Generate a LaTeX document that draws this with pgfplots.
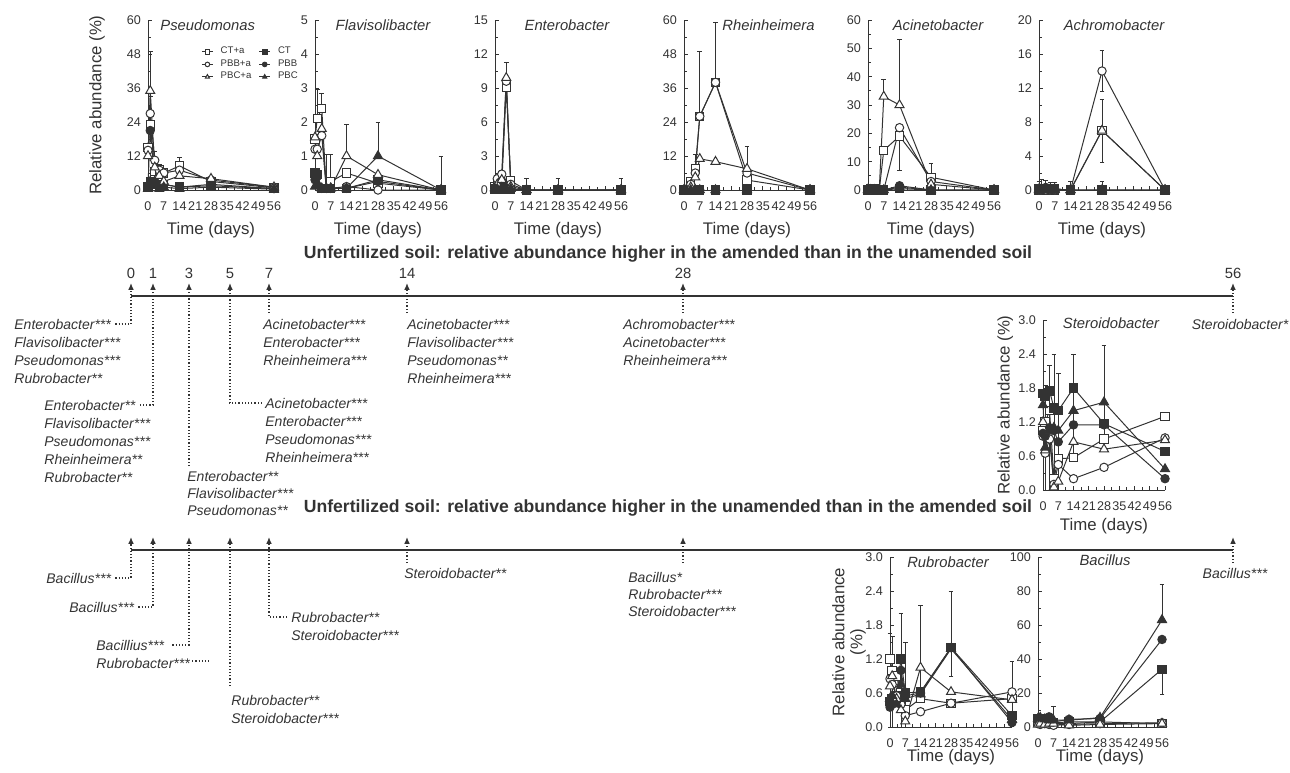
\documentclass[border=0pt]{standalone}
\usepackage{pgfplots}
\pgfplotsset{compat=1.18}
\usepackage{fontspec}
\setmainfont{Liberation Sans}
\usetikzlibrary{arrows.meta}
\definecolor{ink}{gray}{0.2}

\pgfplotsset{
  ser/.style={color=ink, line width=0.5pt, mark size=2.1pt},
  cta/.style={ser, mark=square*, mark options={solid, fill=white}},
  pbba/.style={ser, mark=*, mark options={solid, fill=white}},
  pbca/.style={ser, mark=triangle*, mark size=2.6pt, mark options={solid, fill=white}},
  ct/.style={ser, mark=square*, mark options={solid, fill=ink}},
  pbb/.style={ser, mark=*, mark options={solid, fill=ink}},
  pbc/.style={ser, mark=triangle*, mark size=2.6pt, mark options={solid, fill=ink}},
  errb/.style={forget plot, draw=none, mark=none,
    error bars/y dir=both, error bars/y explicit,
    error bars/error bar style={draw=ink, line width=0.35pt},
    error bars/error mark options={draw=ink, rotate=90, mark size=1.2pt, line width=0.35pt}},
  panel/.style={
    scale only axis, width=63pt, height=85pt, anchor=south west,
    xmin=0, xmax=56, ymin=0, xtick={0,7,...,56},
    minor x tick num=1, minor y tick num=1,
    axis x line*=bottom, axis y line*=left,
    axis line style={ink, line width=0.5pt},
    tick align=inside, major tick length=2.2pt, minor tick length=1.3pt,
    tick style={ink, line width=0.4pt},
    tick label style={font=\fontsize{6.3}{7}\selectfont, text=ink},
    xticklabel style={yshift=-2.5pt},
    /pgf/number format/assume math mode=true,
    xlabel={Time (days)},
    label style={font=\fontsize{8.4}{9}\selectfont, text=ink},
    xlabel style={at={(axis description cs:0.5,-0.235)}, anchor=center},
    ylabel style={anchor=center},
    clip=false,
  },
  dec/.style={ymax=3, ytick={0,0.6,1.2,1.8,2.4,3},
    yticklabel style={/pgf/number format/.cd, fixed, fixed zerofill, precision=1}},
}

\begin{document}
\begin{tikzpicture}
\begin{scope}[x=0.5pt, y=-0.5pt,
  tx/.style={font=\fontsize{7}{8}\selectfont\itshape, text=ink, inner sep=0pt, anchor=west},
  ttl/.style={font=\fontsize{7.4}{8}\selectfont\itshape, text=ink, inner sep=0pt},
  num/.style={font=\fontsize{7.4}{8}\selectfont, text=ink, inner sep=0pt},
  hd/.style={font=\fontsize{8.8}{10}\selectfont\bfseries, text=ink},
  arr/.style={ink, densely dotted, line width=0.6pt, -{Latex[length=3.4pt,width=2.8pt]}},
  dt/.style={ink, densely dotted, line width=0.6pt}]
\path[use as bounding box] (0,0) rectangle (1290,766);

% ---------- timeline 1 ----------
\node[hd] at (668,254)
  {Unfertilized soil: relative abundance higher in the amended than in the unamended soil};
\draw[ink, line width=1.3pt] (131,296) -- (1233,296);
\foreach \d/\x in {0/131,1/153,3/189,5/230,7/269,14/407,28/683,56/1233}
  \node[num] at (\x,273) {\d};

\node[tx] (a0) at (14,324) {Enterobacter***};
\node[tx] at (14,342) {Flavisolibacter***};
\node[tx] at (14,360) {Pseudomonas***};
\node[tx] at (14,378) {Rubrobacter**};
\draw[arr] ([xshift=2pt]a0.east) -| (131,283);

\node[tx] (a1) at (44,405) {Enterobacter**};
\node[tx] at (44,423) {Flavisolibacter***};
\node[tx] at (44,441) {Pseudomonas***};
\node[tx] at (44,459) {Rheinheimera**};
\node[tx] at (44,477) {Rubrobacter**};
\draw[arr] ([xshift=2pt]a1.east) -| (153,283);

\node[tx] at (187,476) {Enterobacter**};
\node[tx] at (187,493) {Flavisolibacter***};
\node[tx] at (187,510) {Pseudomonas**};
\draw[arr] (189,466) -- (189,283);

\node[tx] (a5) at (265,403) {Acinetobacter***};
\node[tx] at (265,421) {Enterobacter***};
\node[tx] at (265,439) {Pseudomonas***};
\node[tx] at (265,457) {Rheinheimera***};
\draw[arr] ([xshift=-1.5pt]a5.west) -| (230,283);

\node[tx] at (263,324) {Acinetobacter***};
\node[tx] at (263,342) {Enterobacter***};
\node[tx] at (263,360) {Rheinheimera***};
\draw[arr] (269,313) -- (269,283);

\node[tx] at (407,324) {Acinetobacter***};
\node[tx] at (407,342) {Flavisolibacter***};
\node[tx] at (407,360) {Pseudomonas**};
\node[tx] at (407,378) {Rheinheimera***};
\draw[arr] (407,313) -- (407,283);

\node[tx] at (623,324) {Achromobacter***};
\node[tx] at (623,342) {Acinetobacter***};
\node[tx] at (623,360) {Rheinheimera***};
\draw[arr] (683,313) -- (683,283);

\node[tx, anchor=center] at (1240,324) {Steroidobacter*};
\draw[arr] (1233,313) -- (1233,283);

% ---------- timeline 2 ----------
\node[hd] at (668,508)
  {Unfertilized soil: relative abundance higher in the unamended than in the amended soil};
\draw[ink, line width=1.3pt] (131,550) -- (1233,550);

\node[tx] (b0) at (46,578) {Bacillus***};
\draw[arr] ([xshift=2pt]b0.east) -| (131,537);
\node[tx] (b1) at (69,607) {Bacillus***};
\draw[arr] ([xshift=2pt]b1.east) -| (153,537);
\node[tx] (b3) at (96,645) {Bacillius***};
\node[tx] (b3b) at (96,663) {Rubrobacter***};
\draw[arr] ([xshift=4pt]b3.east) -| (189,537);
\draw[dt] ([xshift=1pt,yshift=1pt]b3b.east) -- ++(17,0);
\node[tx] at (231,700) {Rubrobacter**};
\node[tx] at (231,718) {Steroidobacter***};
\draw[arr] (230,686) -- (230,537);
\node[tx] (b7) at (291,617) {Rubrobacter**};
\node[tx] at (291,635) {Steroidobacter***};
\draw[arr] ([xshift=-2pt]b7.west) -| (269,537);
\node[tx] at (404,573) {Steroidobacter**};
\draw[arr] (407,563) -- (407,537);
\node[tx] at (628,577) {Bacillus*};
\node[tx] at (628,594) {Rubrobacter***};
\node[tx] at (628,611) {Steroidobacter***};
\draw[arr] (683,563) -- (683,537);
\node[tx, anchor=center] at (1235,573) {Bacillus***};
\draw[arr] (1233,563) -- (1233,537);

% ---------- panel titles ----------
\node[ttl, anchor=west] at (160,25) {Pseudomonas};
\node[ttl] at (383,25) {Flavisolibacter};
\node[ttl] at (567,25) {Enterobacter};
\node[ttl, anchor=east] at (815,25) {Rheinheimera};
\node[ttl] at (938,25) {Acinetobacter};
\node[ttl] at (1114,25) {Achromobacter};
\node[ttl] at (1111,323) {Steroidobacter};
\node[ttl] at (948,562) {Rubrobacter};
\node[ttl] at (1105,560) {Bacillus};
\end{scope}

% ---------- Pseudomonas ----------
\begin{axis}[panel, at={(74pt,-95pt)}, ymax=60, ytick={0,12,...,60},
  ylabel={Relative abundance (\%)}, ylabel style={at={(axis description cs:-0.405,0.5)}},
  legend columns=2, legend cell align=left,
  legend style={at={(axis description cs:0.42,0.85)}, anchor=north west, draw=none, fill=none,
    font=\fontsize{4.8}{5}\selectfont, text=ink, inner sep=0pt, row sep=0.2pt, column sep=3pt,
    nodes={inner sep=0.6pt}},
  legend image code/.code={\draw[#1, mark size=1.15pt, mark repeat=2, mark phase=2]
    plot coordinates {(0pt,0pt) (2.8pt,0pt) (5.6pt,0pt)};}]
\addplot[errb] coordinates {(1,35) += (0,14) -= (0,0) (1,27) += (0,6) -= (0,0)
  (3,10.5) += (0,3) -= (0,0) (5,7) += (0,2) -= (0,0) (14,8.5) += (0,3) -= (0,0)};
\addplot[cta] coordinates {(0,15)(1,23)(3,6.5)(5,7)(7,6)(14,8.5)(28,3)(56,0.8)};
\addplot[ct] coordinates {(0,1)(1,3)(3,2)(5,1)(7,2)(14,1)(28,1.5)(56,0.5)};
\addplot[pbba] coordinates {(0,14)(1,27)(3,10.5)(5,7)(7,6)(14,7)(28,3.5)(56,1)};
\addplot[pbb] coordinates {(0,1.5)(1,21)(3,3)(5,1)(7,2)(14,1)(28,2)(56,0.5)};
\addplot[pbca] coordinates {(0,12)(1,35)(3,8)(5,5)(7,3)(14,5)(28,4)(56,1)};
\addplot[pbc] coordinates {(0,0.5)(1,3)(3,2.5)(5,0.5)(7,1)(14,0.5)(28,1)(56,0.3)};
\legend{CT+a,CT,PBB+a,PBB,PBC+a,PBC}
\end{axis}

% ---------- Flavisolibacter ----------
\begin{axis}[panel, at={(157.5pt,-95pt)}, ymax=5, ytick={0,...,5}]
\addplot[errb] coordinates {(1,2.1) += (0,0.85) -= (0,0) (3,2.4) += (0,0.45) -= (0,0)
  (5,0.05) += (0,1) -= (0,0) (7,0.25) += (0,0.8) -= (0,0) (14,1) += (0,0.93) -= (0,0)
  (28,1) += (0,1) -= (0,0) (56,0) += (0,1) -= (0,0)};
\addplot[cta] coordinates {(0,1.5)(1,2.1)(3,2.4)(5,0.05)(7,0.25)(14,0.5)(28,0.2)(56,0)};
\addplot[ct] coordinates {(0,0.5)(1,0.45)(3,0.05)(5,0.05)(7,0.05)(14,0.05)(28,0.3)(56,0)};
\addplot[pbba] coordinates {(0,1.2)(1,1.2)(3,1.6)(5,0.05)(7,0.05)(14,0.1)(28,0)(56,0)};
\addplot[pbb] coordinates {(0,0.3)(1,0.4)(3,0.05)(5,0.05)(7,0.05)(14,0.05)(28,0.25)(56,0)};
\addplot[pbca] coordinates {(0,1.55)(1,1.0)(3,1.8)(5,0.05)(7,0.05)(14,1.0)(28,0.45)(56,0)};
\addplot[pbc] coordinates {(0,0.1)(1,0.2)(3,0.05)(5,0.05)(7,0.05)(14,0.05)(28,1.0)(56,0)};
\end{axis}

% ---------- Enterobacter ----------
\begin{axis}[panel, at={(247.5pt,-95pt)}, ymax=15, ytick={0,3,...,15}]
\addplot[errb] coordinates {(5,9.9) += (0,1.4) -= (0,0) (3,1.4) += (0,0.3) -= (0,0)
  (14,0) += (0,1) -= (0,0) (28,0) += (0,1) -= (0,0) (56,0) += (0,1) -= (0,0)};
\addplot[cta] coordinates {(0,0.3)(1,0.6)(3,0.5)(5,9.1)(7,0.8)(14,0)(28,0)(56,0)};
\addplot[ct] coordinates {(0,0.1)(1,0.1)(3,0.1)(5,0.1)(7,0.1)(14,0)(28,0)(56,0)};
\addplot[pbba] coordinates {(0,0.2)(1,1.0)(3,1.4)(5,9.6)(7,0.5)(14,0)(28,0)(56,0)};
\addplot[pbb] coordinates {(0,0.1)(1,0.3)(3,0.8)(5,0.2)(7,0.1)(14,0)(28,0)(56,0)};
\addplot[pbca] coordinates {(0,0.2)(1,0.5)(3,0.9)(5,9.9)(7,0.3)(14,0)(28,0)(56,0)};
\addplot[pbc] coordinates {(0,0.1)(1,0.1)(3,0.2)(5,0.1)(7,0.1)(14,0)(28,0)(56,0)};
\end{axis}

% ---------- Rheinheimera ----------
\begin{axis}[panel, at={(342pt,-95pt)}, ymax=60, ytick={0,12,...,60}]
\addplot[errb] coordinates {(7,26) += (0,23) -= (0,0) (14,38) += (0,21) -= (0,0)
  (28,7.5) += (0,8) -= (0,0) (5,7.5) += (0,5) -= (0,0)};
\addplot[cta] coordinates {(0,0)(1,0)(3,3)(5,7.5)(7,26)(14,38)(28,3.5)(56,0)};
\addplot[ct] coordinates {(0,0)(1,0)(3,0)(5,0)(7,0)(14,0)(28,0)(56,0)};
\addplot[pbba] coordinates {(0,0)(1,0)(3,2)(5,6)(7,26)(14,38)(28,6)(56,0)};
\addplot[pbb] coordinates {(0,0)(1,0)(3,0)(5,0)(7,0)(14,0)(28,0)(56,0)};
\addplot[pbca] coordinates {(0,0)(1,0)(3,1)(5,4.5)(7,11)(14,10)(28,7.5)(56,0)};
\addplot[pbc] coordinates {(0,0)(1,0)(3,0)(5,0)(7,0)(14,0)(28,0)(56,0)};
\end{axis}

% ---------- Acinetobacter ----------
\begin{axis}[panel, at={(434pt,-95pt)}, ymax=60, ytick={0,10,...,60}]
\addplot[errb] coordinates {(7,33) += (0,6) -= (0,0) (14,30) += (0,23) -= (0,0)
  (14,19) += (0,0) -= (0,12) (28,4.5) += (0,5) -= (0,0)};
\addplot[cta] coordinates {(0,0)(1,0)(3,0.3)(5,0)(7,14)(14,19)(28,4.5)(56,0)};
\addplot[ct] coordinates {(0,0)(1,0.3)(3,0)(5,0)(7,0)(14,0.5)(28,0)(56,0)};
\addplot[pbba] coordinates {(0,0)(1,0)(3,0)(5,0)(7,0)(14,22)(28,3)(56,0)};
\addplot[pbb] coordinates {(0,0)(1,0)(3,0)(5,0)(7,0)(14,1.5)(28,0)(56,0)};
\addplot[pbca] coordinates {(0,0)(1,0)(3,0)(5,0)(7,33)(14,30)(28,2)(56,0)};
\addplot[pbc] coordinates {(0,0.2)(1,0)(3,0)(5,0)(7,0)(14,1)(28,0)(56,0)};
\end{axis}

% ---------- Achromobacter ----------
\begin{axis}[panel, at={(519.5pt,-95pt)}, ymax=20, ytick={0,4,...,20}]
\addplot[errb] coordinates {(28,14) += (0,2.4) -= (0,2.4) (28,7) += (0,3.7) -= (0,3.7)
  (0,0) += (0,1) -= (0,0) (1,0.2) += (0,1) -= (0,0) (3,0.2) += (0,0.9) -= (0,0)
  (5,0) += (0,0.9) -= (0,0) (7,0) += (0,0.9) -= (0,0) (14,0) += (0,1) -= (0,0) (28,0) += (0,1) -= (0,0)};
\addplot[cta] coordinates {(0,0)(1,0)(3,0)(5,0)(7,0)(14,0)(28,7)(56,0)};
\addplot[ct] coordinates {(0,0.1)(1,0.2)(3,0.2)(5,0.1)(7,0.1)(14,0)(28,0)(56,0)};
\addplot[pbba] coordinates {(0,0)(1,0)(3,0)(5,0)(7,0)(14,0)(28,14)(56,0)};
\addplot[pbb] coordinates {(0,0.1)(1,0.1)(3,0.3)(5,0.1)(7,0.1)(14,0)(28,0)(56,0)};
\addplot[pbca] coordinates {(0,0)(1,0)(3,0)(5,0)(7,0)(14,0)(28,7)(56,0)};
\addplot[pbc] coordinates {(0,0.1)(1,0.1)(3,0.1)(5,0.1)(7,0.1)(14,0)(28,0)(56,0)};
\end{axis}

% ---------- Steroidobacter ----------
\begin{axis}[panel, dec, width=61pt, at={(521.5pt,-245pt)},
  xlabel style={at={(axis description cs:0.5,-0.21)}},
  ylabel={Relative abundance (\%)}, ylabel style={at={(axis description cs:-0.31,0.5)}}]
\addplot[errb] coordinates {(3,1.75) += (0,0.45) -= (0,1.75) (5,1.45) += (0,0.95) -= (0,1.45)
  (7,1.4) += (0,0.65) -= (0,1.4) (14,1.8) += (0,0.6) -= (0,1.2) (28,1.55) += (0,1.0) -= (0,0.8)
  (1,1.65) += (0,0.2) -= (0,1.65)};
\addplot[cta] coordinates {(0,1.05)(1,1.2)(3,1.4)(5,0.2)(7,0.55)(14,0.57)(28,0.9)(56,1.3)};
\addplot[ct] coordinates {(0,1.7)(1,1.65)(3,1.75)(5,1.45)(7,1.4)(14,1.8)(28,1.17)(56,0.68)};
\addplot[pbba] coordinates {(0,0.95)(1,0.65)(3,0.9)(5,0.1)(7,0.45)(14,0.2)(28,0.4)(56,0.92)};
\addplot[pbb] coordinates {(0,1.0)(1,0.95)(3,1.1)(5,1.05)(7,0.85)(14,1.15)(28,1.15)(56,0.2)};
\addplot[pbca] coordinates {(0,1.2)(1,0.7)(3,1.05)(5,0.05)(7,0.15)(14,0.85)(28,0.72)(56,0.88)};
\addplot[pbc] coordinates {(0,1.5)(1,0.75)(3,1.05)(5,1.1)(7,1.05)(14,1.4)(28,1.55)(56,0.37)};
\end{axis}

% ---------- Rubrobacter ----------
\begin{axis}[panel, dec, width=61pt, at={(445pt,-363.5pt)},
  xlabel style={at={(axis description cs:0.5,-0.18)}},
  ylabel={Relative abundance\\(\%)}, ylabel style={align=center, at={(axis description cs:-0.335,0.5)}}]
\addplot[errb] coordinates {(0,1.2) += (0,0.45) -= (0,1.2) (1,1.0) += (0,0.6) -= (0,1.0)
  (5,1.2) += (0,0.8) -= (0,1.2) (7,0.6) += (0,0.9) -= (0,0.6) (14,1.05) += (0,1.1) -= (0,0.5)
  (28,1.4) += (0,1.0) -= (0,0.5) (56,0.62) += (0,0.53) -= (0,0.6)};
\addplot[cta] coordinates {(0,1.2)(1,1.0)(3,0.9)(5,0.6)(7,0.3)(14,0.5)(28,0.42)(56,0.5)};
\addplot[ct] coordinates {(0,0.45)(1,0.5)(3,0.55)(5,1.2)(7,0.6)(14,0.62)(28,1.4)(56,0.2)};
\addplot[pbba] coordinates {(0,0.85)(1,0.75)(3,0.55)(5,0.4)(7,0.2)(14,0.27)(28,0.42)(56,0.62)};
\addplot[pbb] coordinates {(0,0.35)(1,0.4)(3,0.45)(5,1.0)(7,0.55)(14,0.6)(28,1.4)(56,0.08)};
\addplot[pbca] coordinates {(0,0.72)(1,0.9)(3,0.5)(5,0.3)(7,0.1)(14,1.05)(28,0.62)(56,0.48)};
\addplot[pbc] coordinates {(0,0.5)(1,0.55)(3,0.4)(5,0.75)(7,0.5)(14,0.58)(28,1.38)(56,0.13)};
\end{axis}

% ---------- Bacillus ----------
\begin{axis}[panel, width=62pt, at={(519pt,-363.5pt)}, ymax=100, ytick={0,20,...,100},
  xlabel style={at={(axis description cs:0.5,-0.18)}}]
\addplot[errb] coordinates {(56,63) += (0,21) -= (0,0) (56,34) += (0,0) -= (0,15) (7,4) += (0,8) -= (0,0)};
\addplot[cta] coordinates {(0,3)(1,2)(3,3)(5,2)(7,2)(14,2)(28,3)(56,2)};
\addplot[ct] coordinates {(0,5)(1,4)(3,5)(5,3)(7,2.5)(14,3)(28,3)(56,34)};
\addplot[pbba] coordinates {(0,2)(1,1.5)(3,2)(5,1.5)(7,1)(14,1.5)(28,2)(56,2.5)};
\addplot[pbb] coordinates {(0,4)(1,5)(3,4)(5,6)(7,3)(14,4.5)(28,5)(56,51.5)};
\addplot[pbca] coordinates {(0,1.5)(1,2)(3,1.5)(5,2)(7,2)(14,1)(28,1.5)(56,2)};
\addplot[pbc] coordinates {(0,5)(1,5.5)(3,4.5)(5,4)(7,4)(14,4)(28,5.5)(56,63)};
\end{axis}
\end{tikzpicture}
\end{document}
